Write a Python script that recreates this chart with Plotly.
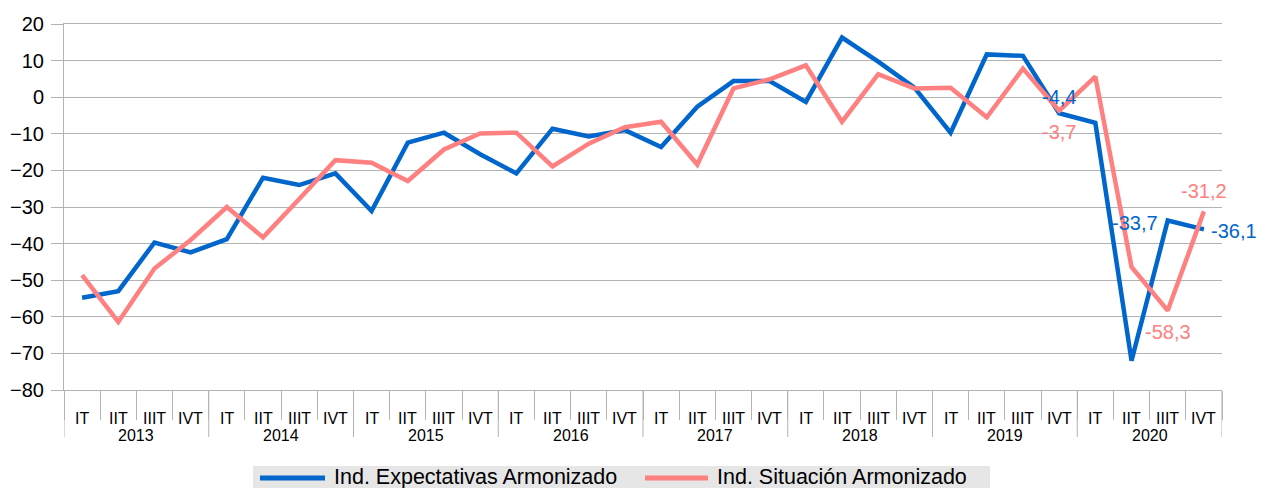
import plotly.graph_objects as go

years = ["2013", "2014", "2015", "2016", "2017", "2018", "2019", "2020"]
quarters = ["IT", "IIT", "IIIT", "IVT"]

expectativas = [-54.8, -53.0, -39.7, -42.4, -38.8, -22.0, -24.0, -20.8,
                -31.1, -12.4, -9.7, -15.6, -20.8, -8.6, -10.7, -9.0,
                -13.6, -2.6, 4.4, 4.4, -1.3, 16.3, 9.7, 2.6,
                -9.7, 11.7, 11.3, -4.4, -7.0, -72.0, -33.7, -36.1]
situacion = [-48.6, -61.4, -46.8, -39.0, -30.0, -38.3, -27.8, -17.2,
             -17.9, -22.9, -14.3, -9.9, -9.7, -18.9, -12.7, -8.2,
             -6.7, -18.4, 2.4, 4.9, 8.7, -6.7, 6.3, 2.4,
             2.6, -5.5, 7.8, -3.7, 5.6, -46.4, -58.3, -31.2]

# data labels: point index -> text (decimal comma as in the source)
exp_labels = {27: "-4,4", 30: "-33,7", 31: "-36,1"}
sit_labels = {27: "-3,7", 30: "-58,3", 31: "-31,2"}

names = ["Ind. Expectativas Armonizado", "Ind. Situación Armonizado"]

x = [[y for y in years for _ in quarters], [q for _ in years for q in quarters]]
n = len(x[0])

BLUE = "#0066cc"
PINK = "#ff8080"
GRID = "#b3b3b3"
FONT = "Liberation Sans, Arial, sans-serif"

# page body adds 8px, so figure coords = screenshot coords - 8
OFF = 8
W, H = 1265 - OFF, 488 - OFF
L, R, T, B = 64 - OFF, 1222 - OFF, 24 - OFF, 390 - OFF
px = lambda v: (v - OFF - L) / (R - L)
py = lambda v: (B - (v - OFF)) / (B - T)

fig = go.Figure()
fig.add_trace(go.Scatter(x=x, y=expectativas, mode="lines", name=names[0],
                         line=dict(color=BLUE, width=4.5)))
fig.add_trace(go.Scatter(x=x, y=situacion, mode="lines", name=names[1],
                         line=dict(color=PINK, width=4.5)))

# label placement relative to its point: (xanchor, xshift, yshift)
place = {
    ("e", 27): ("center", 0, 16), ("e", 30): ("right", -9, -2), ("e", 31): ("left", 6, -2),
    ("s", 27): ("center", 0, -21), ("s", 30): ("center", 0, -21), ("s", 31): ("center", 0, 20),
}
for key, labels, vals, col in [("e", exp_labels, expectativas, BLUE), ("s", sit_labels, situacion, PINK)]:
    for i, txt in labels.items():
        xa, xs, ys = place[(key, i)]
        fig.add_annotation(x=i, y=vals[i], xref="x", yref="y", text=txt, showarrow=False,
                           xanchor=xa, yanchor="middle", xshift=xs, yshift=ys, borderpad=0,
                           font=dict(size=20, color=col, family=FONT))

# two-level category labels (quarter row, then year row) and year dividers
for i in range(n):
    fig.add_annotation(x=i, y=py(418), xref="x", yref="paper", text=x[1][i], showarrow=False,
                       xanchor="center", yanchor="middle", font=dict(size=16, color="black", family=FONT))
for k, yr in enumerate(years):
    mid = k * len(quarters) + (len(quarters) - 1) / 2
    fig.add_annotation(x=mid, y=py(435), xref="x", yref="paper", text=yr, showarrow=False,
                       xanchor="center", yanchor="middle", font=dict(size=16, color="black", family=FONT))
for k in range(len(years) + 1):
    xb = k * len(quarters) - 0.5
    fig.add_shape(type="line", xref="x", yref="paper", x0=xb, x1=xb, y0=py(390), y1=py(437),
                  line=dict(color=GRID, width=1))

# hand-drawn legend (long line samples, grey box)
fig.add_shape(type="rect", xref="paper", yref="paper",
              x0=px(253), x1=px(990), y0=py(466), y1=py(500),
              fillcolor="#e6e6e6", line=dict(width=0), layer="below")
for (x0, x1, tx), col, name in zip([(260, 325, 333), (645, 708, 716)], [BLUE, PINK], names):
    fig.add_shape(type="line", xref="paper", yref="paper",
                  x0=px(x0), x1=px(x1), y0=py(478), y1=py(478),
                  line=dict(color=col, width=5))
    fig.add_annotation(xref="paper", yref="paper", x=px(tx), y=py(477),
                       xanchor="left", yanchor="middle", showarrow=False, borderpad=0,
                       text=name, font=dict(size=21.5, color="black", family=FONT))

fig.update_layout(
    width=W, height=H,
    margin=dict(l=L, r=W - R, t=T, b=H - B),
    plot_bgcolor="white", paper_bgcolor="white",
    font=dict(family=FONT, color="black"),
    showlegend=False,
)
fig.update_yaxes(
    range=[-80, 20], dtick=10, showgrid=True, gridcolor=GRID, gridwidth=1,
    zeroline=False, showline=True, linecolor=GRID,
    ticks="outside", ticklen=12, tickcolor=GRID, ticklabelstandoff=3,
    tickfont=dict(size=20), automargin=False,
)
fig.update_xaxes(
    type="multicategory", range=[-0.5, n - 0.5], autorange=False,
    showline=True, linecolor=GRID, mirror=True,
    ticks="outside", tickson="boundaries", ticklen=29, tickcolor=GRID,
    showdividers=False, showticklabels=False, showgrid=False, automargin=False,
)
fig.write_html("out.html")
